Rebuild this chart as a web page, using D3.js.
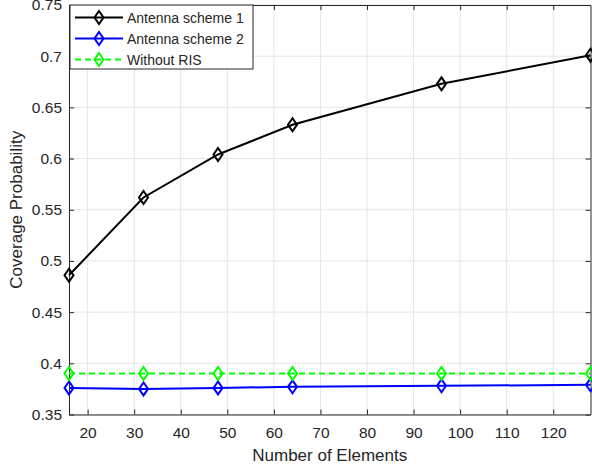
<!DOCTYPE html>
<html>
<head>
<meta charset="utf-8">
<script src="https://cdn.jsdelivr.net/npm/d3@7"></script>
<style>
  body { margin: 0; background: #fff; }
  svg text { font-family: "Liberation Sans", Arial, sans-serif; fill: #262626; }
</style>
</head>
<body>
<svg id="chart" width="592" height="470"></svg>
<script>
// chart values
var elements = [16, 32, 48, 64, 96, 128];
var scheme1 = [0.486, 0.562, 0.604, 0.633, 0.673, 0.701];
var scheme2 = [0.376, 0.375, 0.376, 0.377, 0.378, 0.379];
var withoutRIS = [0.390, 0.390, 0.390, 0.390, 0.390, 0.390];
var seriesNames = ["Antenna scheme 1", "Antenna scheme 2", "Without RIS"];
var xTicks = [20, 30, 40, 50, 60, 70, 80, 90, 100, 110, 120];
var yTicks = [0.35, 0.4, 0.45, 0.5, 0.55, 0.6, 0.65, 0.7, 0.75];

var series = [
  { name: seriesNames[0], values: scheme1, color: "#000000", dash: null },
  { name: seriesNames[1], values: scheme2, color: "#0000ff", dash: null },
  { name: seriesNames[2], values: withoutRIS, color: "#00ff00", dash: "6,4" }
];

var svg = d3.select("#chart");
var x = d3.scaleLinear().domain([16, 128]).range([69, 590.5]);
var y = d3.scaleLinear().domain([0.35, 0.75]).range([414.5, 5]);
var axisCol = "#262626";

// grid
svg.append("g").selectAll("line").data(xTicks).enter().append("line")
    .attr("x1", function(d) { return x(d); }).attr("x2", function(d) { return x(d); })
    .attr("y1", y(0.35)).attr("y2", y(0.75))
    .attr("stroke", "#e5e5e5").attr("stroke-width", 1);
svg.append("g").selectAll("line").data(yTicks).enter().append("line")
    .attr("x1", x(16)).attr("x2", x(128))
    .attr("y1", function(d) { return y(d); }).attr("y2", function(d) { return y(d); })
    .attr("stroke", "#e5e5e5").attr("stroke-width", 1);

// axes (MATLAB style: ticks inward, box on)
function styleAxis(g) {
  g.select(".domain").attr("stroke", axisCol);
  g.selectAll(".tick line").attr("stroke", axisCol);
  g.selectAll(".tick text").attr("fill", axisCol)
    .style("font-family", "Liberation Sans, Arial, sans-serif").style("font-size", "15.5px");
}
svg.append("g").attr("transform", "translate(0," + y(0.35) + ")")
  .call(d3.axisBottom(x).tickValues(xTicks).tickSizeInner(-5).tickSizeOuter(0).tickPadding(12))
  .call(styleAxis);
svg.append("g").attr("transform", "translate(0," + y(0.75) + ")")
  .call(d3.axisTop(x).tickValues(xTicks).tickSizeInner(-5).tickSizeOuter(0).tickFormat(""))
  .call(styleAxis);
svg.append("g").attr("transform", "translate(" + x(16) + ",0)")
  .call(d3.axisLeft(y).tickValues(yTicks).tickSizeInner(-5).tickSizeOuter(0).tickPadding(7)
    .tickFormat(function(d) { return d3.format("")(+d.toFixed(2)); }))
  .call(styleAxis);
svg.append("g").attr("transform", "translate(" + x(128) + ",0)")
  .call(d3.axisRight(y).tickValues(yTicks).tickSizeInner(-5).tickSizeOuter(0).tickFormat(""))
  .call(styleAxis);

// labels
svg.append("text").attr("x", (x(16) + x(128)) / 2).attr("y", 461)
  .attr("text-anchor", "middle").style("font-size", "17px").text("Number of Elements");
svg.append("text").attr("transform", "translate(22," + (y(0.35) + y(0.75)) / 2 + ") rotate(-90)")
  .attr("text-anchor", "middle").style("font-size", "17px").text("Coverage Probability");

var diamond = function(cx, cy) {
  return "M" + cx + "," + (cy - 6.5) + "L" + (cx + 4.5) + "," + cy + "L" + cx + "," + (cy + 6.5) + "L" + (cx - 4.5) + "," + cy + "Z";
};

var line = d3.line()
  .x(function(d, i) { return x(elements[i]); })
  .y(function(d) { return y(d); });

var plot = svg.append("g");
series.forEach(function(s) {
  plot.append("path").datum(s.values)
    .attr("d", line).attr("fill", "none")
    .attr("stroke", s.color).attr("stroke-width", 2)
    .attr("stroke-dasharray", s.dash);
  plot.selectAll(null).data(s.values).enter().append("path")
    .attr("d", function(d, i) { return diamond(x(elements[i]), y(d)); })
    .attr("fill", "none").attr("stroke", s.color).attr("stroke-width", 2);
});

// legend
var leg = svg.append("g");
leg.append("rect").attr("x", 70).attr("y", 5).attr("width", 183).attr("height", 64)
  .attr("fill", "#fff").attr("stroke", axisCol).attr("stroke-width", 1);
series.forEach(function(s, i) {
  var ly = 17.5 + i * 21;
  leg.append("line").attr("x1", 75).attr("x2", 123).attr("y1", ly).attr("y2", ly)
    .attr("stroke", s.color).attr("stroke-width", 2).attr("stroke-dasharray", s.dash);
  leg.append("path").attr("d", diamond(99, ly)).attr("fill", "none")
    .attr("stroke", s.color).attr("stroke-width", 2);
  leg.append("text").attr("x", 127).attr("y", ly + 5)
    .style("font-size", "14px").attr("fill", "#000").text(s.name);
});
</script>
</body>
</html>
